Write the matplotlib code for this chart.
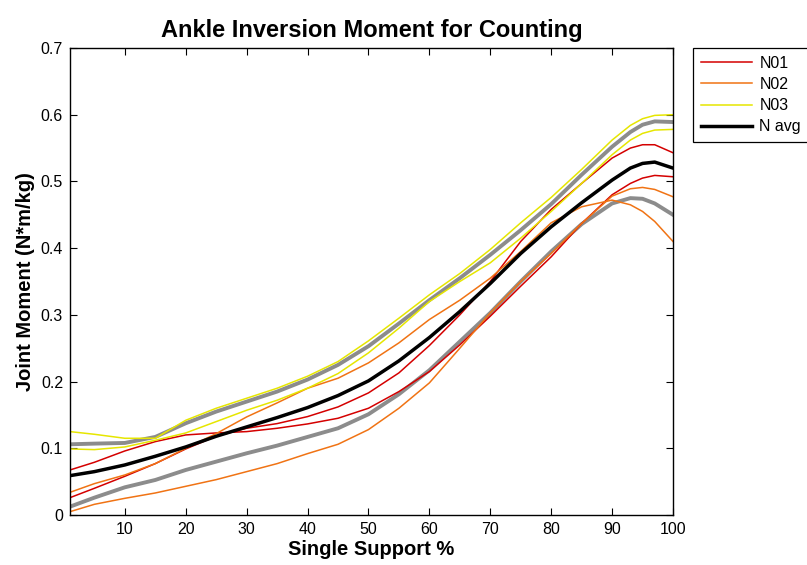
import numpy as np
import matplotlib
matplotlib.use('Agg')
import matplotlib.pyplot as plt

plt.rcParams['font.family'] = ['Liberation Sans', 'DejaVu Sans']

# single support % sample points
pct = [1, 5, 10, 15, 20, 25, 30, 35, 40, 45, 50, 55, 60, 65, 70, 75, 80, 85, 90, 93, 95, 97, 100]

# N01 trials
n01_a = [0.0675, 0.079, 0.096, 0.110, 0.120, 0.123, 0.125, 0.130, 0.1365, 0.145, 0.160, 0.185, 0.215,
         0.255, 0.298, 0.343, 0.387, 0.437, 0.480, 0.497, 0.505, 0.509, 0.507]
n01_b = [0.026, 0.040, 0.058, 0.077, 0.099, 0.118, 0.130, 0.137, 0.1475, 0.162, 0.183, 0.213, 0.254,
         0.300, 0.350, 0.410, 0.458, 0.497, 0.535, 0.550, 0.555, 0.555, 0.543]
# N02 trials
n02_a = [0.034, 0.047, 0.060, 0.077, 0.100, 0.122, 0.147, 0.168, 0.190, 0.205, 0.228, 0.258, 0.293,
         0.322, 0.355, 0.395, 0.438, 0.462, 0.472, 0.465, 0.455, 0.440, 0.410]
n02_b = [0.005, 0.016, 0.025, 0.033, 0.043, 0.053, 0.065, 0.077, 0.092, 0.106, 0.128, 0.160, 0.198,
         0.250, 0.303, 0.350, 0.392, 0.437, 0.478, 0.489, 0.491, 0.488, 0.477]
# N03 trials
n03_a = [0.125, 0.121, 0.115, 0.115, 0.142, 0.160, 0.175, 0.190, 0.208, 0.230, 0.261, 0.295, 0.330,
         0.362, 0.398, 0.438, 0.476, 0.518, 0.562, 0.584, 0.594, 0.599, 0.600]
n03_b = [0.099, 0.098, 0.102, 0.112, 0.123, 0.140, 0.157, 0.172, 0.190, 0.212, 0.243, 0.280, 0.320,
         0.350, 0.378, 0.415, 0.455, 0.497, 0.540, 0.562, 0.572, 0.577, 0.578]
# average
n_avg = [0.059, 0.065, 0.075, 0.088, 0.102, 0.118, 0.132, 0.146, 0.161, 0.179, 0.201, 0.231, 0.266,
         0.305, 0.347, 0.392, 0.432, 0.468, 0.502, 0.520, 0.527, 0.529, 0.520]
# gray band
band_hi = [0.106, 0.107, 0.108, 0.117, 0.1375, 0.155, 0.170, 0.185, 0.203, 0.225, 0.253, 0.287, 0.322,
           0.355, 0.390, 0.427, 0.466, 0.510, 0.552, 0.574, 0.585, 0.590, 0.589]
band_lo = [0.0125, 0.026, 0.0415, 0.0525, 0.0675, 0.080, 0.0925, 0.104, 0.117, 0.130, 0.151, 0.181, 0.217,
           0.260, 0.303, 0.350, 0.395, 0.436, 0.467, 0.475, 0.474, 0.467, 0.450]

fig = plt.figure(figsize=(8.07, 5.65), dpi=100)
ax = fig.add_axes([70/807, 50/565, 603/807, 467/565])

red = '#d40000'
orange = '#f07314'
yellow = '#e6e600'
gray = '#8c8c8c'

ax.plot(pct, band_hi, color=gray, lw=2.8)
ax.plot(pct, band_lo, color=gray, lw=2.8)
ax.plot(pct, n01_a, color=red, lw=1.1, label='N01')
ax.plot(pct, n01_b, color=red, lw=1.1)
ax.plot(pct, n02_a, color=orange, lw=1.1, label='N02')
ax.plot(pct, n02_b, color=orange, lw=1.1)
ax.plot(pct, n03_a, color=yellow, lw=1.1, label='N03')
ax.plot(pct, n03_b, color=yellow, lw=1.1)
ax.plot(pct, n_avg, color='black', lw=2.5, label='N avg')

ax.set_xlim(1, 100)
ax.set_ylim(0, 0.7)
ax.set_xticks(np.arange(10, 101, 10))
ax.set_yticks(np.arange(0, 0.71, 0.1))
ax.set_yticklabels(['0', '0.1', '0.2', '0.3', '0.4', '0.5', '0.6', '0.7'])
ax.tick_params(direction='in', length=5, width=0.8, top=True, right=True, labelsize=11.5, pad=5)
for s in ax.spines.values():
    s.set_linewidth(1.0)

ax.set_title('Ankle Inversion Moment for Counting', fontsize=17, fontweight='bold', pad=8)
ax.set_xlabel('Single Support %', fontsize=14.5, fontweight='bold', labelpad=2)
ax.set_ylabel('Joint Moment (N*m/kg)', fontsize=14.5, fontweight='bold', labelpad=4)

leg = fig.legend(loc='upper left', bbox_to_anchor=(693/807, 1 - 48/565), fontsize=11.5,
                 frameon=True, fancybox=False, framealpha=1, edgecolor='black',
                 handlelength=3.2, handletextpad=0.45, labelspacing=0.38, borderpad=0.5,
                 borderaxespad=0)
leg.get_frame().set_linewidth(0.9)

fig.savefig('out.png', dpi=100)
